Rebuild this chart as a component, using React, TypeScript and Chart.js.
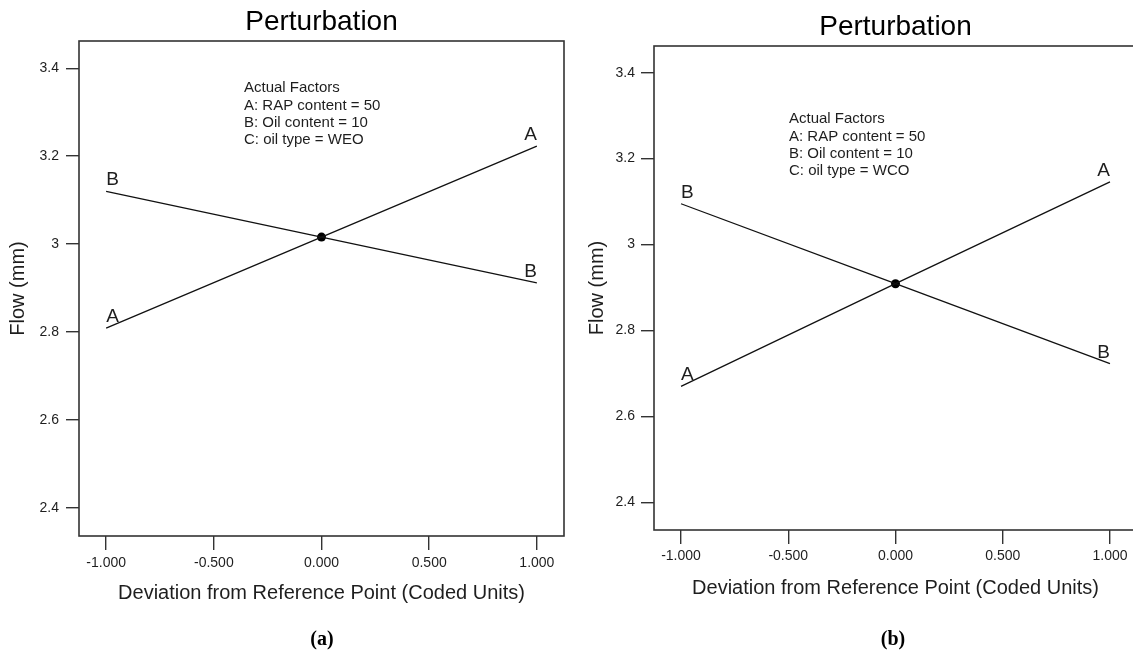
import { useEffect, useRef } from "react";
import { Chart, registerables } from "chart.js";

Chart.register(...registerables);

// Coded deviation of each factor from the reference point
const codedDeviation = [-1, 0, 1];
const xTickValues = [-1, -0.5, 0, 0.5, 1];
const yTickValues = [2.4, 2.6, 2.8, 3.0, 3.2, 3.4];

// Flow (mm), oil type = WEO
const flowA_WEO = [2.809, 3.016, 3.223];
const flowB_WEO = [3.12, 3.016, 2.912];

// Flow (mm), oil type = WCO
const flowA_WCO = [2.67, 2.909, 3.146];
const flowB_WCO = [3.095, 2.909, 2.723];

const factorsWEO = [
  "Actual Factors",
  "A: RAP content = 50",
  "B: Oil content = 10",
  "C: oil type = WEO",
];
const factorsWCO = [
  "Actual Factors",
  "A: RAP content = 50",
  "B: Oil content = 10",
  "C: oil type = WCO",
];

const FONT = "'Liberation Sans', Arial, Helvetica, sans-serif";
const INK = "#1e1e1e";

type Panel = {
  left: number;
  width: number;
  yAxisWidth: number;
  padRight: number;
  padBottom: number;
  xAxisHeight: number;
  xTickPad: number;
  yTickPad: number;
  yTitlePad: number;
  titleTop: number;
  titleBottom: number;
  noteDx: number;
  noteDy: number;
  caption: string;
  captionX: number;
  flowA: number[];
  flowB: number[];
  factors: string[];
};

const panels: Panel[] = [
  {
    left: 0,
    width: 580,
    yAxisWidth: 79,
    padRight: 16,
    padBottom: 47,
    xAxisHeight: 70,
    xTickPad: 5,
    yTickPad: 7,
    yTitlePad: 6,
    titleTop: 5,
    titleBottom: 2.4,
    noteDx: 165,
    noteDy: 47,
    caption: "(a)",
    captionX: 322,
    flowA: flowA_WEO,
    flowB: flowB_WEO,
    factors: factorsWEO,
  },
  {
    left: 580,
    width: 570,
    yAxisWidth: 74,
    padRight: 13,
    padBottom: 52,
    xAxisHeight: 71,
    xTickPad: 4,
    yTickPad: 6,
    yTitlePad: 5,
    titleTop: 10,
    titleBottom: 2.4,
    noteDx: 135,
    noteDy: 73,
    caption: "(b)",
    captionX: 893,
    flowA: flowA_WCO,
    flowB: flowB_WCO,
    factors: factorsWCO,
  },
];

// Box around the plotting area
const framePlugin = {
  id: "frame",
  afterDraw(chart: any) {
    const { ctx, chartArea } = chart;
    ctx.save();
    ctx.strokeStyle = "#333";
    ctx.lineWidth = 1.6;
    ctx.strokeRect(
      chartArea.left,
      chartArea.top,
      chartArea.right - chartArea.left,
      chartArea.bottom - chartArea.top
    );
    ctx.restore();
  },
};

// Factor letters at both ends of each perturbation line
const endLabelPlugin = {
  id: "endLabels",
  afterDatasetsDraw(chart: any) {
    const { ctx } = chart;
    ctx.save();
    ctx.font = `19px ${FONT}`;
    ctx.fillStyle = INK;
    ctx.textBaseline = "alphabetic";
    chart.data.datasets.forEach((ds: any, i: number) => {
      if (!ds.factorLetter) return;
      const pts = chart.getDatasetMeta(i).data;
      const first = pts[0];
      const last = pts[pts.length - 1];
      ctx.textAlign = "left";
      ctx.fillText(ds.factorLetter, first.x, first.y - 6);
      ctx.textAlign = "right";
      ctx.fillText(ds.factorLetter, last.x, last.y - 6);
    });
    ctx.restore();
  },
};

// "Actual Factors" note inside the plot
const notePlugin = {
  id: "factorNote",
  afterDraw(chart: any, _args: any, opts: any) {
    const { ctx, chartArea } = chart;
    ctx.save();
    ctx.font = `15px ${FONT}`;
    ctx.fillStyle = INK;
    ctx.textAlign = "left";
    ctx.textBaseline = "middle";
    (opts.lines as string[]).forEach((line, k) => {
      ctx.fillText(line, chartArea.left + opts.dx, chartArea.top + opts.dy + k * 17.4);
    });
    ctx.restore();
  },
};

function PerturbationChart({ panel }: { panel: Panel }) {
  const ref = useRef<HTMLCanvasElement | null>(null);

  useEffect(() => {
    if (!ref.current) return;
    const toPoints = (ys: number[]) => codedDeviation.map((x, i) => ({ x, y: ys[i] }));
    const centerIdx = codedDeviation.indexOf(0);

    const chart = new Chart(ref.current, {
      type: "line",
      data: {
        datasets: [
          {
            label: "A",
            factorLetter: "A",
            data: toPoints(panel.flowA),
            borderColor: "#111",
            borderWidth: 1.3,
            pointRadius: 0,
            tension: 0,
          } as any,
          {
            label: "B",
            factorLetter: "B",
            data: toPoints(panel.flowB),
            borderColor: "#111",
            borderWidth: 1.3,
            pointRadius: 0,
            tension: 0,
          } as any,
          {
            label: "Reference point",
            data: [{ x: codedDeviation[centerIdx], y: panel.flowA[centerIdx] }],
            showLine: false,
            pointRadius: 4.5,
            pointBackgroundColor: "#000",
            pointBorderColor: "#000",
            pointBorderWidth: 0,
          },
        ],
      },
      options: {
        animation: false,
        responsive: false,
        maintainAspectRatio: false,
        devicePixelRatio: 1,
        layout: {
          padding: { left: 0, top: 0, right: panel.padRight, bottom: panel.padBottom },
        },
        plugins: {
          legend: { display: false },
          tooltip: { enabled: false },
          title: {
            display: true,
            text: "Perturbation",
            fullSize: false,
            color: "#000",
            font: { family: FONT, size: 28, weight: "normal", lineHeight: 1.2 },
            padding: { top: panel.titleTop, bottom: panel.titleBottom },
          },
          factorNote: { lines: panel.factors, dx: panel.noteDx, dy: panel.noteDy },
        } as any,
        scales: {
          x: {
            type: "linear",
            min: -1.126,
            max: 1.126,
            afterBuildTicks: (s: any) => {
              s.ticks = xTickValues.map((v) => ({ value: v }));
            },
            afterFit: (s: any) => {
              s.height = panel.xAxisHeight;
            },
            grid: {
              drawOnChartArea: false,
              drawTicks: true,
              tickLength: 14,
              color: "#333",
              lineWidth: 1.4,
            },
            border: { display: false },
            ticks: {
              padding: panel.xTickPad,
              color: INK,
              font: { family: FONT, size: 14 },
              maxRotation: 0,
              autoSkip: false,
              callback: (v: any) => Number(v).toFixed(3),
            },
            title: {
              display: true,
              text: "Deviation from Reference Point (Coded Units)",
              color: INK,
              font: { family: FONT, size: 20, lineHeight: 1.2 },
              padding: { top: 0, bottom: 1 },
            },
          },
          y: {
            type: "linear",
            min: 2.336,
            max: 3.462,
            afterBuildTicks: (s: any) => {
              s.ticks = yTickValues.map((v) => ({ value: v }));
            },
            afterFit: (s: any) => {
              s.width = panel.yAxisWidth;
            },
            grid: {
              drawOnChartArea: false,
              drawTicks: true,
              tickLength: 13,
              color: "#333",
              lineWidth: 1.4,
            },
            border: { display: false },
            ticks: {
              padding: panel.yTickPad,
              color: INK,
              font: { family: FONT, size: 14 },
              callback: (v: any) => String(parseFloat(Number(v).toFixed(1))),
            },
            title: {
              display: true,
              text: "Flow (mm)",
              color: INK,
              font: { family: FONT, size: 20, lineHeight: 1.2 },
              padding: { top: panel.yTitlePad, bottom: 0 },
            },
          },
        },
      },
      plugins: [framePlugin, endLabelPlugin, notePlugin],
    });

    return () => chart.destroy();
  }, [panel]);

  return (
    <canvas
      ref={ref}
      width={panel.width}
      height={653}
      style={{
        position: "absolute",
        left: panel.left,
        top: 0,
        width: panel.width,
        height: 653,
      }}
    />
  );
}

export default function App() {
  return (
    <div
      style={{
        position: "absolute",
        left: 0,
        top: 0,
        width: 1133,
        height: 653,
        overflow: "hidden",
        background: "#fff",
      }}
    >
      {panels.map((p) => (
        <PerturbationChart key={p.caption} panel={p} />
      ))}
      {panels.map((p) => (
        <div
          key={p.caption + "-cap"}
          style={{
            position: "absolute",
            left: p.captionX - 40,
            width: 80,
            top: 626,
            textAlign: "center",
            fontFamily: "'Liberation Serif', 'Times New Roman', serif",
            fontWeight: "bold",
            fontSize: 20,
            lineHeight: "24px",
            color: "#000",
          }}
        >
          {p.caption}
        </div>
      ))}
    </div>
  );
}
